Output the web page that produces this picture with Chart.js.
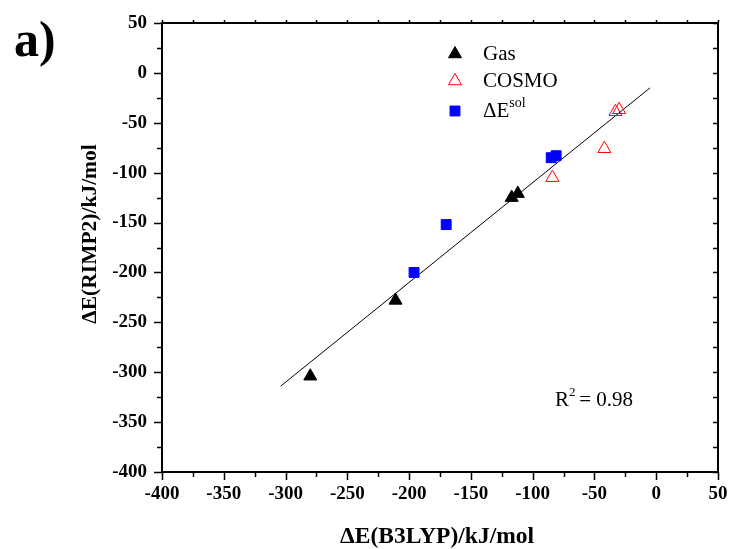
<!DOCTYPE html>
<html>
<head>
<meta charset="utf-8">
<script src="https://cdn.jsdelivr.net/npm/chart.js@4"></script>
<style>
  body { margin: 0; background: #fff; }
  #wrap { width: 734px; height: 549px; }
</style>
</head>
<body>
<div id="wrap"><canvas id="fitChart"></canvas></div>
<script>
const serif = "'Liberation Serif', 'Times New Roman', serif";

// values (kJ/mol)
const gasX = [-280, -211, -117, -112];
const gasY = [-304, -228, -125, -121];
const cosmoX = [-84, -42, -33, -30];
const cosmoY = [-105, -76, -39, -37];
const solX = [-85, -81, -170, -196];
const solY = [-85, -83, -152, -200];
const fitX = [-304, -5];
const fitY = [-314, -15];

const axisMin = -400;
const axisMax = 50;
const majorStep = 50;
const minorStep = 25;

function toPoints(xs, ys) {
  return xs.map((x, i) => ({ x: x, y: ys[i] }));
}

const frameAndLabels = {
  id: "frameAndLabels",
  afterDraw(chart) {
    const ctx = chart.ctx;
    const area = chart.chartArea;
    const xs = chart.scales.x;
    const ys = chart.scales.y;
    ctx.save();

    // frame
    ctx.strokeStyle = "#000";
    ctx.lineWidth = 2;
    ctx.strokeRect(area.left, area.top, area.right - area.left, area.bottom - area.top);

    // ticks
    ctx.lineWidth = 1.5;
    ctx.beginPath();
    for (let v = axisMin; v <= axisMax; v += minorStep) {
      const major = (v % majorStep) === 0;
      const px = Math.round(xs.getPixelForValue(v)) + 0.5;
      const py = Math.round(ys.getPixelForValue(v)) + 0.5;
      ctx.moveTo(px, area.bottom);
      ctx.lineTo(px, area.bottom + (major ? 8 : 5));
      ctx.moveTo(area.left, py);
      ctx.lineTo(area.left - (major ? 8 : 5), py);
      ctx.moveTo(px, area.top);
      ctx.lineTo(px, area.top - 3);
      ctx.moveTo(area.right, py);
      ctx.lineTo(area.right - 5, py);
    }
    ctx.stroke();

    // tick labels from the scales' own ticks
    ctx.fillStyle = "#000";
    ctx.font = "bold 19px " + serif;
    ctx.textBaseline = "middle";
    ctx.textAlign = "center";
    xs.ticks.forEach((t) => {
      ctx.fillText(String(t.value), xs.getPixelForValue(t.value), 494);
    });
    ctx.textAlign = "right";
    ys.ticks.forEach((t) => {
      ctx.fillText(String(t.value), 147, ys.getPixelForValue(t.value));
    });

    ctx.textBaseline = "alphabetic";

    // panel label
    ctx.font = "bold 50px " + serif;
    ctx.textAlign = "left";
    ctx.fillText("a)", 14, 56);

    // axis titles
    ctx.font = "bold 23.5px " + serif;
    ctx.textAlign = "center";
    ctx.fillText("\u0394E(B3LYP)/kJ/mol", 437, 543);
    ctx.save();
    ctx.translate(96, 234);
    ctx.rotate(-Math.PI / 2);
    ctx.font = "bold 21.5px " + serif;
    ctx.fillText("\u0394E(RIMP2)/kJ/mol", 0, 0);
    ctx.restore();

    // legend
    const ds = chart.data.datasets;
    const rows = [
      { i: 0, y: 52, text: "Gas" },
      { i: 1, y: 79, text: "COSMO" },
      { i: 2, y: 109, text: "\u0394E", sup: "sol" }
    ];
    ctx.textAlign = "left";
    rows.forEach((r) => {
      const d = ds[r.i];
      ctx.fillStyle = d.backgroundColor;
      ctx.strokeStyle = d.borderColor;
      ctx.lineWidth = d.borderWidth;
      Chart.helpers.drawPoint(ctx, { pointStyle: d.pointStyle, radius: d.pointRadius, borderWidth: d.borderWidth }, 455, r.y + 2);
      ctx.fillStyle = "#000";
      ctx.font = "21px " + serif;
      ctx.fillText(r.text, 483, r.y + 8);
      if (r.sup) {
        const w = ctx.measureText(r.text).width;
        ctx.font = "14px " + serif;
        ctx.fillText(r.sup, 483 + w, r.y - 2);
      }
    });

    // R^2 note
    ctx.font = "21px " + serif;
    ctx.fillText("R", 555, 406);
    let w = ctx.measureText("R").width;
    ctx.font = "13px " + serif;
    ctx.fillText("2", 555 + w, 396);
    ctx.font = "21px " + serif;
    ctx.fillText(" = 0.98", 555 + w + 5, 406);

    ctx.restore();
  }
};

new Chart(document.getElementById("fitChart"), {
  type: "scatter",
  data: {
    datasets: [
      {
        label: "Gas",
        data: toPoints(gasX, gasY),
        pointStyle: "triangle",
        pointRadius: 7.5,
        backgroundColor: "#000",
        borderColor: "#000",
        borderWidth: 1
      },
      {
        label: "COSMO",
        data: toPoints(cosmoX, cosmoY),
        pointStyle: "triangle",
        pointRadius: 7.5,
        backgroundColor: "rgba(255,255,255,0)",
        borderColor: "#ff0000",
        borderWidth: 1
      },
      {
        label: "\u0394E sol",
        data: toPoints(solX, solY),
        pointStyle: "rect",
        pointRadius: 7,
        backgroundColor: "#0000ff",
        borderColor: "#0000ff",
        borderWidth: 1
      },
      {
        label: "fit",
        type: "line",
        data: toPoints(fitX, fitY),
        showLine: true,
        pointRadius: 0,
        borderColor: "#000",
        borderWidth: 1,
        fill: false
      }
    ]
  },
  options: {
    responsive: true,
    maintainAspectRatio: false,
    animation: false,
    layout: { padding: { top: 23, right: 16, left: 0, bottom: 0 } },
    plugins: {
      legend: { display: false },
      tooltip: { enabled: false }
    },
    scales: {
      x: {
        type: "linear",
        min: axisMin,
        max: axisMax,
        grid: { display: false, drawTicks: false },
        border: { display: false },
        ticks: { stepSize: majorStep, display: false },
        afterFit(scale) { scale.height = 77; }
      },
      y: {
        type: "linear",
        min: axisMin,
        max: axisMax,
        grid: { display: false, drawTicks: false },
        border: { display: false },
        ticks: { stepSize: majorStep, display: false },
        afterFit(scale) { scale.width = 162; }
      }
    }
  },
  plugins: [frameAndLabels]
});
</script>
</body>
</html>
